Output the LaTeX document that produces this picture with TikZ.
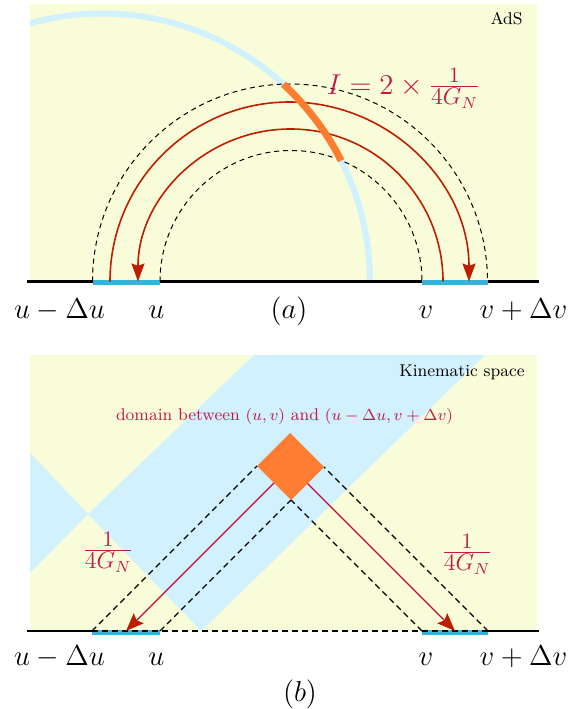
\documentclass[tikz,border=0pt]{standalone}
\usepackage{amsmath}
\usetikzlibrary{arrows.meta}
\definecolor{bgyellow}{HTML}{F9FCD8}
\definecolor{ltblue}{HTML}{D0F1FD}
\definecolor{segblue}{HTML}{3AB0DA}
\definecolor{orng}{HTML}{FF7D30}
\definecolor{arcred}{HTML}{BE1E00}
\definecolor{txtred}{HTML}{C4184A}
\definecolor{arrline}{HTML}{C40A3A}
\newcommand{\quarterG}{\frac{\mbox{\fontsize{10.5}{12}\selectfont$1$}}{\mbox{\fontsize{11.5}{13}\selectfont$4G_N$}}}
\tikzset{
  baseln/.style={line width=1.2pt, black},
  seg/.style={segblue, line width=2.5pt},
  dsh/.style={black, line width=0.5pt, dash pattern=on 2.5pt off 2pt},
  dshb/.style={black, line width=0.6pt, dash pattern=on 3pt off 2pt},
  redarc/.style={arcred, line width=0.8pt, -{Stealth[length=9pt,width=6.5pt,inset=1.2pt]}},
  redarr/.style={arrline, line width=0.65pt, -{Stealth[length=9pt,width=7pt,inset=1.5pt,color=arcred]}},
  lbl/.style={font=\Large, anchor=base, inner sep=0pt},
  small/.style={font=\fontsize{8.5}{10}\selectfont, inner sep=0pt},
  redtxt/.style={text=txtred},
  fraclbl/.style={text=txtred, font=\Large, anchor=base, inner sep=0pt}
}
\begin{document}
\begin{tikzpicture}[x=0.5pt,y=0.5pt]
\useasboundingbox (0,0) rectangle (580,709);

% ---------------- top panel (AdS) ----------------
\fill[bgyellow] (30,427.5) rectangle (537,705);
\coordinate (bc) at (102,427.5);
\begin{scope}
  \clip (30,427.5) rectangle (537,705);
  \draw[ltblue, line width=3pt] ([shift={(0:268)}]bc) arc[start angle=0, end angle=115, radius=268];
\end{scope}
\coordinate (tL) at (27,427.5);
\coordinate (tR) at (539,427.5);
\coordinate (tA) at (92.5,427.5);
\coordinate (tB) at (160,427.5);
\coordinate (tC) at (422,427.5);
\coordinate (tD) at (487.5,427.5);
\coordinate (rO) at (110,427.5);
\coordinate (rI) at (443,427.5);
\draw[baseln] (tL) -- (tR);
\draw[seg] ([yshift=-0.75pt]tA) -- ([yshift=-0.75pt]tB);
\draw[seg] ([yshift=-0.75pt]tC) -- ([yshift=-0.75pt]tD);
\draw[dsh] (tA) arc[start angle=180, end angle=0, radius=197.5];
\draw[dsh] (tB) arc[start angle=180, end angle=0, radius=131];
\draw[redarc] (rO) arc[start angle=180, end angle=0, radius=179.5];
\draw[redarc] (rI) arc[start angle=0, end angle=180, radius=152.5];
\draw[orng, line width=3.5pt] ([shift={(26.8:268)}]bc) arc[start angle=26.8, end angle=47.4, radius=268];

\node[small, anchor=base east] (ads) at (523,684) {AdS};
\node[fraclbl] (form) at (403.5,615) {$I=2\times\quarterG$};

\node[lbl] (t1) at (59.5,391) {$u-\Delta u$};
\node[lbl] (t2) at (156.5,391) {$u$};
\node[lbl] (t3) at (289,391) {$(a)$};
\node[lbl] (t4) at (426,391) {$v$};
\node[lbl] (t5) at (523.5,391) {$v+\Delta v$};

% ---------------- bottom panel (Kinematic space) ----------------
\fill[bgyellow] (30,78) rectangle (537,354);
\begin{scope}
  \clip (30,78) rectangle (537,354);
  \fill[ltblue] (30,256) -- (88,195) -- (30,136) -- cycle;
  \fill[ltblue] (88,195) -- (201,78) -- (485,354) -- (254,354) -- cycle;
\end{scope}
\coordinate (bL) at (27,78);
\coordinate (bR) at (539,78);
\coordinate (bA) at (92,78);
\coordinate (bB) at (160,78);
\coordinate (bC) at (422,78);
\coordinate (bD) at (488,78);
\coordinate (dT) at (290,276);
\coordinate (dL) at (257,243);
\coordinate (dB) at (291,209);
\coordinate (dR) at (324,242);
\coordinate (dC) at (290.5,242.5);
\coordinate (eL) at (126,78);
\coordinate (eR) at (455,78);
\draw[baseln] (bL) -- (bA);
\draw[baseln] (bD) -- (bR);
\draw[seg] ([yshift=-0.9pt]bA) -- ([yshift=-0.9pt]bB);
\draw[seg] ([yshift=-0.9pt]bC) -- ([yshift=-0.9pt]bD);
\draw[dshb, line width=1pt] (bA) -- (bD);
\draw[dshb] (bA) -- (dL);
\draw[dshb] (bB) -- (dB);
\draw[dshb] (bC) -- (dB);
\draw[dshb] (bD) -- (dR);
\draw[redarr] (dC) -- (eL);
\draw[redarr] (dC) -- (eR);
\fill[orng] (dT) -- (dL) -- (dB) -- (dR) -- cycle;

\node[small, anchor=base east] (ks) at (525,333) {Kinematic space};
\node[small, redtxt, anchor=base] (dom) at (284.5,288) {domain between $(u,v)$ and $(u-\Delta u,v+\Delta v)$};
\node[fraclbl] (fl) at (108,151) {$\quarterG$};
\node[fraclbl] (fr) at (467,149) {$\quarterG$};

\node[lbl] (b1) at (59.5,43) {$u-\Delta u$};
\node[lbl] (b2) at (156.5,43) {$u$};
\node[lbl] (b3) at (300,8) {$(b)$};
\node[lbl] (b4) at (426,43) {$v$};
\node[lbl] (b5) at (523.5,43) {$v+\Delta v$};
\end{tikzpicture}
\end{document}
